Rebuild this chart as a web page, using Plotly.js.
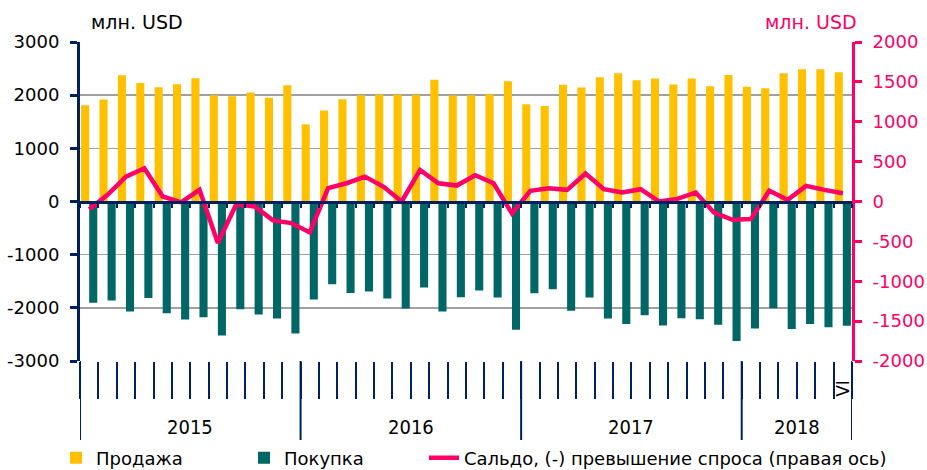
<!DOCTYPE html>
<html><head><meta charset="utf-8">
<script src="https://cdn.plot.ly/plotly-3.0.1.min.js"></script>
<style>html,body{margin:0;padding:0;background:#fff}#chart{width:927px;height:470px}</style>
</head><body><div id="chart"></div>
<script>
// ---- data ----
const years = ['2015', '2016', '2017', '2018'];
const monthsPerYear = [12, 12, 12, 6];
const monthNames = ['I','II','III','IV','V','VI','VII','VIII','IX','X','XI','XII'];
const lastMonthLabel = 'VI';

const salesName = 'Продажа';
const purchasesName = 'Покупка';
const balanceName = 'Сальдо, (-) превышение спроса (правая ось)';
const unitLabel = 'млн. USD';

const leftTicks = [-3000, -2000, -1000, 0, 1000, 2000, 3000];
const rightTicks = [-2000, -1500, -1000, -500, 0, 500, 1000, 1500, 2000];

const sales = [1812, 1919, 2375, 2231, 2150, 2206, 2319, 2000, 1981, 2050, 1950, 2188,
               1450, 1712, 1925, 2000, 2012, 2012, 2006, 2288, 1994, 2000, 2019, 2263,
               1831, 1794, 2194, 2144, 2338, 2413, 2281, 2313, 2200, 2313, 2169, 2381,
               2156, 2131, 2413, 2488, 2488, 2431];
const purchases = [-1906, -1863, -2069, -1813, -2100, -2219, -2175, -2519, -2025, -2125, -2200, -2481,
                   -1844, -1556, -1719, -1694, -1825, -2013, -1619, -2069, -1800, -1675, -1806, -2413,
                   -1725, -1650, -2056, -1806, -2200, -2306, -2138, -2331, -2194, -2213, -2319, -2625,
                   -2388, -2006, -2400, -2306, -2363, -2338];
const balance = [-96, 83, 312, 417, 63, -10, 146, -521, -35, -63, -237, -271,
                 -388, 167, 229, 312, 188, 0, 396, 229, 200, 330, 229, -150,
                 133, 167, 146, 350, 154, 113, 154, 0, 33, 113, -140, -229,
                 -221, 135, 20, 196, 146, 104];

// ---- build ----
const categories = [];
years.forEach((y, i) => { for (let m = 0; m < monthsPerYear[i]; m++) categories.push(monthNames[m] + ' ' + y); });
const n = categories.length;

const NAVY = '#002060', PINK = '#FF0066', YELLOW = '#FFC000', TEAL = '#006666', GRID = '#A0A0A0';
const FONT = 'DejaVu Sans, Verdana, sans-serif';
const FONT_C = 'DejaVu Sans Condensed, DejaVu Sans, sans-serif';

const traces = [
  {type: 'bar', name: salesName, x: categories, y: sales, marker: {color: YELLOW, line: {width: 0}}, xaxis: 'x', yaxis: 'y', legend: 'legend'},
  {type: 'bar', name: purchasesName, x: categories, y: purchases, marker: {color: TEAL, line: {width: 0}}, xaxis: 'x', yaxis: 'y', legend: 'legend2'},
  {type: 'scatter', mode: 'lines', name: balanceName, x: categories, y: balance, line: {color: PINK, width: 4.5}, xaxis: 'x2', yaxis: 'y2', legend: 'legend3'}
];

// geometry helpers (plot area: x 80..852, y 42..361)
const PH = 319, PW = 772;
const py = pix => (361 - pix) / PH;      // pixel row -> paper y
const px = pix => (pix - 80) / PW;       // pixel col -> paper x

const dividerBottom = py(440);
const shapes = [];
const annotations = [];
let start = 0;
shapes.push({type: 'line', xref: 'x', yref: 'paper', x0: -0.5, x1: -0.5, y0: 0, y1: dividerBottom, line: {color: NAVY, width: 2}});
years.forEach((y, i) => {
  const end = start + monthsPerYear[i];
  shapes.push({type: 'line', xref: 'x', yref: 'paper', x0: end - 0.5, x1: end - 0.5, y0: 0, y1: dividerBottom, line: {color: NAVY, width: 2}});
  annotations.push({text: y, xref: 'x', yref: 'paper', x: (start + end - 1) / 2, y: py(427),
                    showarrow: false, xanchor: 'center', yanchor: 'middle', font: {family: FONT_C, size: 20, color: '#000'}});
  start = end;
});
annotations.push({text: lastMonthLabel, xref: 'x', yref: 'paper', x: n - 1, y: py(388), textangle: -90,
                  showarrow: false, xanchor: 'center', yanchor: 'middle', font: {family: FONT, size: 17, color: '#000'}});
annotations.push({text: unitLabel, xref: 'paper', yref: 'paper', x: px(89), y: py(22),
                  xanchor: 'left', yanchor: 'middle', showarrow: false, font: {family: FONT, size: 19, color: '#000'}});
annotations.push({text: unitLabel, xref: 'paper', yref: 'paper', x: px(859), y: py(22),
                  xanchor: 'right', yanchor: 'middle', showarrow: false, font: {family: FONT, size: 19, color: PINK}});

const legendBase = {orientation: 'h', xref: 'container', yref: 'container', y: 12 / 470,
                    xanchor: 'left', yanchor: 'middle', font: {family: FONT, size: 18, color: '#000'},
                    bgcolor: 'rgba(0,0,0,0)', borderwidth: 0};

const layout = {
  width: 927, height: 470,
  margin: {l: 80, r: 75, t: 42, b: 109, pad: 0},
  paper_bgcolor: '#FFFFFF', plot_bgcolor: '#FFFFFF',
  barmode: 'group', bargap: 0.12, bargroupgap: 0,
  font: {family: FONT, size: 18, color: '#000'},
  showlegend: true,
  legend: Object.assign({}, legendBase, {x: 56 / 927}),
  legend2: Object.assign({}, legendBase, {x: 244 / 927}),
  legend3: Object.assign({}, legendBase, {x: 424 / 927}),
  xaxis: {type: 'category', range: [-0.5, n - 0.5], showgrid: false, zeroline: false, showline: false,
          ticks: 'outside', tickson: 'boundaries', ticklen: 37, tickwidth: 2, tickcolor: NAVY,
          showticklabels: false, fixedrange: true},
  xaxis2: {type: 'category', overlaying: 'x', anchor: 'free', position: 0.5, range: [-0.5, n - 0.5],
           showline: true, linecolor: NAVY, linewidth: 3, ticks: 'outside', tickson: 'boundaries',
           ticklen: 4, tickwidth: 2, tickcolor: NAVY, showticklabels: false, showgrid: false, zeroline: false},
  yaxis: {range: [leftTicks[0], leftTicks[leftTicks.length - 1]], tickmode: 'array', tickvals: leftTicks,
          ticktext: leftTicks.map(v => String(v)), showgrid: true, gridcolor: GRID, gridwidth: 1.5,
          zeroline: false, showline: true, linecolor: NAVY, linewidth: 3, ticks: 'outside', ticklen: 7,
          tickwidth: 3, tickcolor: NAVY, tickfont: {family: FONT, size: 18, color: '#000'}, ticklabelstandoff: 7},
  yaxis2: {overlaying: 'y', side: 'right', anchor: 'x', range: [rightTicks[0], rightTicks[rightTicks.length - 1]],
           tickmode: 'array', tickvals: rightTicks, ticktext: rightTicks.map(v => String(v)),
           showgrid: false, zeroline: false, showline: true, linecolor: PINK, linewidth: 3, ticks: 'outside',
           ticklen: 7, tickwidth: 3, tickcolor: PINK, tickfont: {family: FONT, size: 18, color: PINK}, ticklabelstandoff: 7},
  shapes: shapes,
  annotations: annotations
};

Plotly.newPlot('chart', traces, layout, {staticPlot: true, displayModeBar: false});
</script>
</body></html>
